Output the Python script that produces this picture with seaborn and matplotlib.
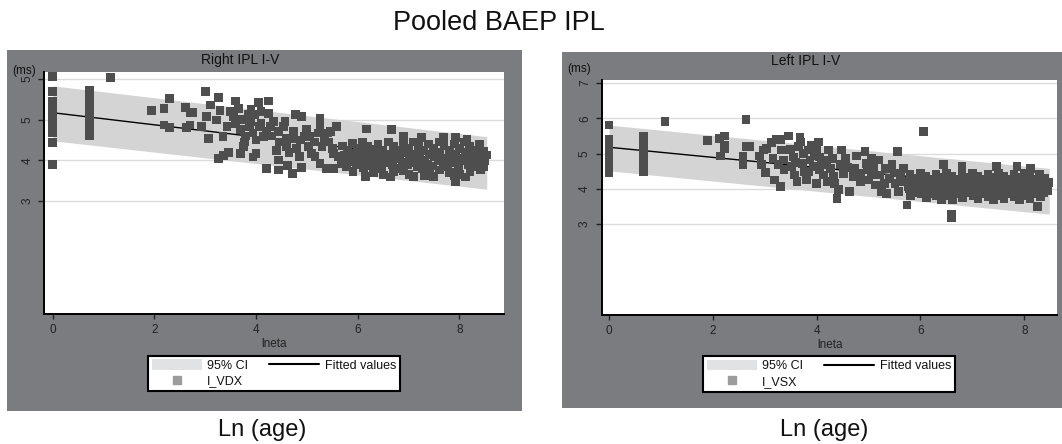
import matplotlib
matplotlib.use("Agg")
import matplotlib.pyplot as plt
from matplotlib.patches import Rectangle, Patch
from matplotlib.lines import Line2D
import seaborn as sns
import pandas as pd

# ---------------- data ----------------
main_title = "Pooled BAEP IPL"
panel_titles = ["Right IPL I-V", "Left IPL I-V"]
series_labels = ["I_VDX", "I_VSX"]
x_ticks = [0, 2, 4, 6, 8]
right_y_ticks = [3, 4, 5, 6]
right_y_ticklabels = ["3", "4", "5", "5"]
left_y_ticks = [3, 4, 5, 6, 7]
left_y_ticklabels = ["3", "4", "5", "6", "7"]

# Right IPL I-V : (lneta, ms)
right_ipl_points = [
    (0, 6.05), (0, 5.69), (0, 5.45), (0, 5.25), (0, 5.15), (0, 5.05), (0, 4.95),
    (0, 4.85), (0, 4.75), (0, 4.68), (0, 4.43), (0, 3.90),
    (0.72, 5.72), (0.72, 5.60), (0.72, 5.50), (0.72, 5.40), (0.72, 5.32), (0.72, 5.10),
    (0.72, 5.00), (0.72, 4.90), (0.72, 4.80), (0.72, 4.70), (0.72, 4.60),
    (1.13, 6.04),
    (1.95, 5.22), (2.19, 5.28), (2.30, 5.52), (2.19, 4.87), (2.30, 4.81), (2.62, 5.30),
    (2.70, 5.17), (2.76, 5.17), (2.64, 4.81), (2.70, 4.87), (2.93, 4.83), (3.01, 5.69),
    (3.02, 5.07), (3.06, 4.54), (3.11, 5.36), (3.26, 5.55), (3.29, 5.22), (3.23, 4.99),
    (3.26, 4.05), (3.36, 4.11), (3.46, 4.20), (3.35, 4.58), (3.43, 4.83), (3.59, 5.46),
    (3.49, 5.20), (3.55, 5.07), (3.65, 5.28), (3.70, 4.75), (3.69, 4.17), (3.75, 4.33),
    (3.78, 4.45), (3.82, 4.99), (3.85, 5.12), (3.88, 4.83), (3.94, 4.67), (3.97, 5.12),
    (4.05, 5.43), (4.07, 4.83), (4.24, 5.46), (4.00, 4.17), (3.94, 4.08), (4.21, 3.80),
    (4.15, 4.58), (4.21, 4.71), (4.28, 4.83), (4.34, 4.95), (4.41, 4.25), (4.44, 4.01),
    (4.44, 3.76), (4.47, 4.45), (4.54, 4.83), (4.57, 4.95), (4.59, 4.54), (4.60, 4.33),
    (4.62, 3.88), (4.72, 3.68), (4.77, 5.12), (4.74, 4.71), (4.73, 4.54), (4.90, 5.07),
    (4.87, 4.50), (4.86, 4.09), (4.89, 3.82), (5.00, 4.75), (5.03, 4.33), (5.06, 4.58),
    (5.10, 4.17), (5.16, 4.09), (5.26, 5.03), (5.26, 4.83), (5.23, 4.67), (5.30, 4.33),
    (5.40, 4.67), (5.43, 4.45), (5.26, 3.92), (5.39, 3.80), (5.52, 3.80), (5.46, 4.71),
    (5.59, 4.83), (5.62, 4.09), (5.52, 4.17),
    (3.90, 4.95), (4.10, 4.90), (3.80, 4.60), (4.00, 4.50), (4.30, 4.60), (3.60, 4.90),
    (3.70, 5.00), (4.45, 4.70), (4.10, 5.20), (3.90, 5.25), (4.65, 4.20), (4.80, 4.30),
    (4.95, 4.60), (5.15, 4.45), (5.35, 4.55), (5.50, 4.30), (4.25, 5.15),
    (5.70, 4.35), (5.73, 4.12), (5.68, 3.93),
    (5.80, 4.24), (5.83, 4.02), (5.78, 3.84),
    (5.90, 4.41), (5.92, 4.18), (5.88, 3.98), (5.91, 3.72),
    (6.00, 4.30), (6.03, 4.08), (5.98, 3.89),
    (6.10, 4.44), (6.12, 4.22), (6.08, 4.03), (6.11, 3.83),
    (6.20, 4.34), (6.18, 4.13), (6.22, 3.94), (6.18, 4.77), (6.15, 3.61),
    (6.30, 4.28), (6.32, 4.08), (6.28, 3.88), (6.31, 3.70),
    (6.40, 4.40), (6.42, 4.19), (6.38, 3.99), (6.41, 3.79),
    (6.50, 4.24), (6.52, 4.04), (6.48, 3.84), (6.51, 3.64),
    (6.60, 4.45), (6.62, 4.15), (6.58, 3.95), (6.64, 3.59), (6.67, 4.75),
    (6.70, 4.34), (6.72, 4.10), (6.68, 3.90), (6.71, 3.72),
    (6.80, 4.25), (6.82, 4.04), (6.78, 3.80),
    (6.90, 4.40), (6.92, 4.19), (6.88, 3.96), (6.91, 3.75), (6.90, 4.60),
    (7.00, 4.30), (7.02, 4.10), (6.98, 3.89), (7.01, 3.66),
    (7.10, 4.45), (7.12, 4.15), (7.08, 3.95), (7.10, 3.61),
    (7.20, 4.35), (7.22, 4.05), (7.18, 3.85),
    (7.26, 4.57), (7.30, 4.25), (7.32, 4.00), (7.28, 3.80), (7.31, 3.62),
    (7.40, 4.40), (7.42, 4.15), (7.38, 3.90), (7.41, 3.70),
    (7.49, 3.61), (7.50, 4.30), (7.52, 4.10), (7.48, 3.86),
    (7.60, 4.45), (7.62, 4.20), (7.58, 4.00), (7.61, 3.76),
    (7.69, 4.57), (7.70, 4.35), (7.72, 4.05), (7.68, 3.85),
    (7.80, 4.25), (7.82, 4.10), (7.78, 3.90), (7.81, 3.70),
    (7.92, 4.57), (7.90, 4.40), (7.92, 4.15), (7.88, 3.95), (7.93, 3.47), (7.91, 3.62),
    (8.00, 4.30), (8.02, 4.05), (7.98, 3.85), (8.01, 3.66),
    (8.10, 4.45), (8.12, 4.20), (8.08, 4.00), (8.12, 3.59), (8.15, 4.52),
    (8.20, 4.35), (8.22, 4.10), (8.18, 3.90), (8.21, 3.72),
    (8.30, 4.25), (8.32, 4.05), (8.28, 3.85),
    (8.40, 4.40), (8.42, 4.17), (8.38, 3.95), (8.41, 3.76),
    (8.48, 4.22), (8.50, 4.00), (8.47, 3.85), (8.53, 4.13),
]

# Left IPL I-V : (lneta, ms)
left_ipl_points = [
    (0, 5.81), (0, 5.40), (0, 5.30), (0, 5.20), (0, 5.10), (0, 5.00), (0, 4.90),
    (0, 4.80), (0, 4.70), (0, 4.47),
    (0.67, 5.50), (0.67, 5.40), (0.67, 5.30), (0.67, 5.20), (0.67, 5.10), (0.67, 5.00),
    (0.67, 4.90), (0.67, 4.80), (0.67, 4.70), (0.67, 4.60), (0.67, 4.50),
    (1.08, 5.91),
    (1.89, 5.37), (2.13, 5.43), (2.22, 5.50), (2.22, 5.24), (2.15, 4.93), (2.22, 5.15),
    (2.58, 4.93), (2.58, 4.68), (2.64, 5.97), (2.64, 5.20), (2.71, 5.20), (2.90, 4.93),
    (2.94, 4.68), (3.01, 4.46), (2.97, 5.10), (3.04, 5.15), (3.13, 5.31), (3.23, 5.39),
    (3.30, 5.41), (3.16, 4.87), (3.19, 4.25), (3.30, 4.06), (3.27, 4.68), (3.33, 5.10),
    (3.36, 4.82), (3.37, 4.54), (3.46, 5.50), (3.49, 5.12), (3.52, 4.63), (3.55, 4.90),
    (3.58, 4.39), (3.62, 4.20), (3.65, 5.20), (3.68, 5.47), (3.69, 5.33), (3.74, 5.00),
    (3.73, 4.72), (3.77, 4.49), (3.81, 4.25), (3.84, 5.10), (3.87, 4.82), (3.90, 5.24),
    (3.94, 4.63), (4.00, 4.16), (4.00, 5.10), (4.03, 5.33), (4.06, 4.90), (4.10, 4.68),
    (4.13, 4.39), (4.19, 4.82), (4.23, 5.10), (4.26, 4.58), (4.32, 4.35), (4.35, 4.16),
    (4.39, 3.73), (4.42, 3.97), (4.45, 4.68), (4.48, 5.10), (4.51, 4.44), (4.55, 4.87),
    (4.64, 3.92), (4.71, 4.35), (4.74, 4.58), (4.77, 4.93), (4.84, 4.44), (4.93, 5.05),
    (4.95, 4.72), (4.97, 4.54), (5.00, 4.25), (5.06, 4.87), (5.10, 4.63), (5.13, 4.11),
    (5.19, 4.82), (5.22, 4.39), (5.25, 3.92), (5.32, 4.58), (5.35, 3.87), (5.41, 4.30),
    (5.45, 4.68), (5.51, 4.16), (5.56, 5.05), (5.58, 3.92), (5.61, 4.35), (5.67, 4.58),
    (5.74, 3.54), (5.77, 4.06),
    (3.60, 4.75), (3.85, 4.50), (4.05, 4.55), (4.20, 4.20), (3.95, 4.95), (4.30, 4.85),
    (4.60, 4.60), (4.85, 4.20), (5.05, 4.40), (5.30, 4.15), (5.50, 4.45), (5.65, 4.20),
    (5.80, 4.40), (5.83, 4.20), (5.78, 4.00), (5.81, 3.82),
    (5.90, 4.30), (5.92, 4.10), (5.88, 3.90),
    (6.00, 4.45), (6.02, 4.25), (5.98, 4.05), (6.01, 3.85), (6.06, 5.62),
    (6.10, 4.35), (6.12, 4.15), (6.08, 3.95), (6.11, 3.75),
    (6.20, 4.28), (6.22, 4.06), (6.18, 3.86),
    (6.30, 4.42), (6.32, 4.20), (6.28, 4.00), (6.31, 3.80),
    (6.40, 4.32), (6.42, 4.12), (6.38, 3.92), (6.44, 4.68), (6.41, 3.70),
    (6.50, 4.45), (6.52, 4.22), (6.48, 4.02), (6.51, 3.82),
    (6.60, 4.35), (6.62, 4.10), (6.58, 3.90), (6.60, 3.26), (6.60, 3.18), (6.61, 3.68),
    (6.70, 4.28), (6.72, 4.05), (6.68, 3.85),
    (6.80, 4.63), (6.80, 4.40), (6.82, 4.18), (6.78, 3.98), (6.81, 3.76),
    (6.90, 4.32), (6.92, 4.10), (6.88, 3.90),
    (7.00, 4.45), (7.02, 4.22), (6.98, 4.02), (7.01, 3.80),
    (7.10, 4.35), (7.12, 4.12), (7.08, 3.92), (7.11, 3.72),
    (7.20, 4.28), (7.22, 4.05), (7.18, 3.85),
    (7.30, 4.42), (7.32, 4.20), (7.28, 4.00), (7.31, 3.78),
    (7.40, 4.32), (7.42, 4.10), (7.38, 3.90), (7.41, 3.70),
    (7.47, 4.63), (7.50, 4.45), (7.52, 4.22), (7.48, 4.02), (7.51, 3.82),
    (7.60, 4.35), (7.62, 4.12), (7.58, 3.92), (7.61, 3.72),
    (7.70, 4.28), (7.72, 4.05), (7.68, 3.85),
    (7.86, 4.63), (7.80, 4.42), (7.82, 4.20), (7.78, 4.00), (7.81, 3.78),
    (7.90, 4.32), (7.92, 4.10), (7.88, 3.90), (7.91, 3.70),
    (8.00, 4.45), (8.02, 4.22), (7.98, 4.02), (8.01, 3.82),
    (8.12, 4.58), (8.10, 4.35), (8.12, 4.12), (8.08, 3.92), (8.11, 3.72),
    (8.20, 4.28), (8.22, 4.05), (8.18, 3.85), (8.25, 3.49),
    (8.30, 4.40), (8.32, 4.18), (8.28, 3.98), (8.31, 3.78),
    (8.40, 4.30), (8.42, 4.08), (8.38, 3.88),
    (8.47, 4.17), (8.45, 3.95),
]

# fitted lines and 95% CI bands
right_fit_x = [0.0, 8.54]
right_fit_y = [5.17, 3.90]
right_ci_lo = [4.48, 3.29]
right_ci_hi = [5.83, 4.58]

left_fit_x = [0.0, 8.48]
left_fit_y = [5.18, 3.96]
left_ci_lo = [4.51, 3.28]
left_ci_hi = [5.81, 4.58]

# ---------------- style ----------------
sns.set_theme(style="white")
plt.rcParams["font.family"] = ["Liberation Sans", "DejaVu Sans"]

PANEL_GRAY = "#7b7c80"
POINT_COLOR = "#4e4e4e"
BAND_COLOR = "#d4d4d4"
GRID_COLOR = "#dcdcdc"
TEXT_COLOR = "#222222"

W, H = 1062, 444
fig = plt.figure(figsize=(W / 100, H / 100), dpi=100)
fig.patch.set_facecolor("white")


def fx(px):
    return px / W


def fy(py):
    return 1 - py / H


# gray panel backgrounds
for (x0, y0, x1, y1) in [(6.7, 50, 521.7, 411), (562, 52, 1062, 408)]:
    fig.patches.append(Rectangle((fx(x0), fy(y1)), fx(x1 - x0), (y1 - y0) / H,
                                 transform=fig.transFigure, facecolor=PANEL_GRAY,
                                 edgecolor="none", zorder=-5))

panels = [
    dict(box=(44.3, 72, 504, 314), xlim=(-0.165, 8.88), ylim=(0.224, 6.17),
         pts=right_ipl_points, fx_=right_fit_x, fy_=right_fit_y,
         lo=right_ci_lo, hi=right_ci_hi, yt=right_y_ticks, ytl=right_y_ticklabels,
         title=panel_titles[0], title_xy=(240, 60), ms_xy=(24.5, 71),
         legend_c=(274, 373.5), label=series_labels[0], ln_xy=(262, 430)),
    dict(box=(602, 80, 1057, 315), xlim=(-0.135, 8.63), ylim=(0.415, 7.09),
         pts=left_ipl_points, fx_=left_fit_x, fy_=left_fit_y,
         lo=left_ci_lo, hi=left_ci_hi, yt=left_y_ticks, ytl=left_y_ticklabels,
         title=panel_titles[1], title_xy=(806, 61), ms_xy=(579, 69),
         legend_c=(829, 374), label=series_labels[1], ln_xy=(824, 430)),
]

for p in panels:
    x0, y0, x1, y1 = p["box"]
    ax = fig.add_axes([fx(x0), fy(y1), fx(x1 - x0), (y1 - y0) / H])
    ax.set_facecolor("white")
    df = pd.DataFrame(p["pts"], columns=["lneta", "ms"])

    ax.fill_between(p["fx_"], p["lo"], p["hi"], color=BAND_COLOR, lw=0, zorder=1)
    sns.lineplot(x=p["fx_"], y=p["fy_"], color="black", lw=1.0, ax=ax, zorder=2)
    sns.scatterplot(data=df, x="lneta", y="ms", marker="s", s=40, color=POINT_COLOR,
                    edgecolor="none", linewidth=0, ax=ax, legend=False, zorder=3)

    ax.set_xlim(*p["xlim"])
    ax.set_ylim(*p["ylim"])
    ax.set_xticks(x_ticks)
    ax.set_xticklabels([str(t) for t in x_ticks])
    ax.set_yticks(p["yt"])
    ax.set_yticklabels(p["ytl"], rotation=90, va="center")
    ax.yaxis.grid(True, color=GRID_COLOR, lw=1.0)
    ax.xaxis.grid(False)
    ax.set_axisbelow(True)
    for s in ["top", "right"]:
        ax.spines[s].set_visible(False)
    for s in ["left", "bottom"]:
        ax.spines[s].set_color("black")
        ax.spines[s].set_linewidth(1.4)
    ax.tick_params(axis="y", length=4, width=1, pad=4, labelsize=8.5, colors=TEXT_COLOR,
                   left=True)
    ax.tick_params(axis="x", length=3.5, width=1, pad=4, labelsize=8.5, colors=TEXT_COLOR,
                   bottom=True)
    ax.set_xlabel("lneta", fontsize=8.5, color=TEXT_COLOR, labelpad=1)
    ax.set_ylabel("")

    fig.text(fx(p["title_xy"][0]), fy(p["title_xy"][1]), p["title"], ha="center",
             va="center", fontsize=10, color="#111111")
    fig.text(fx(p["ms_xy"][0]), fy(p["ms_xy"][1]), "(ms)", ha="center", va="center",
             fontsize=8.5, color="#111111")
    fig.text(fx(p["ln_xy"][0]), fy(p["ln_xy"][1]), "Ln (age)", ha="center", va="center",
             fontsize=17, color="#111111")

    handles = [Patch(facecolor="#e1e2e4", edgecolor="none"),
               Line2D([], [], marker="s", ls="none", color="#9c9c9c", markersize=5.5),
               Line2D([], [], color="black", lw=1.5)]
    labels = ["95% CI", p["label"], "Fitted values"]
    leg = fig.legend(handles, labels, loc="center",
                     bbox_to_anchor=(fx(p["legend_c"][0]), fy(p["legend_c"][1])),
                     bbox_transform=fig.transFigure, ncol=2, fontsize=9,
                     frameon=True, fancybox=False, edgecolor="black", framealpha=1,
                     handlelength=4, handleheight=0.9, handletextpad=0.45,
                     columnspacing=1.7, borderpad=0.3, labelspacing=0.25,
                     borderaxespad=0)
    leg.get_frame().set_linewidth(1.5)
    for t in leg.get_texts():
        t.set_color("#111111")

fig.text(fx(499), fy(23), main_title, ha="center", va="center", fontsize=19.5,
         color="#111111")

fig.savefig("out.png", dpi=100, facecolor="white")
